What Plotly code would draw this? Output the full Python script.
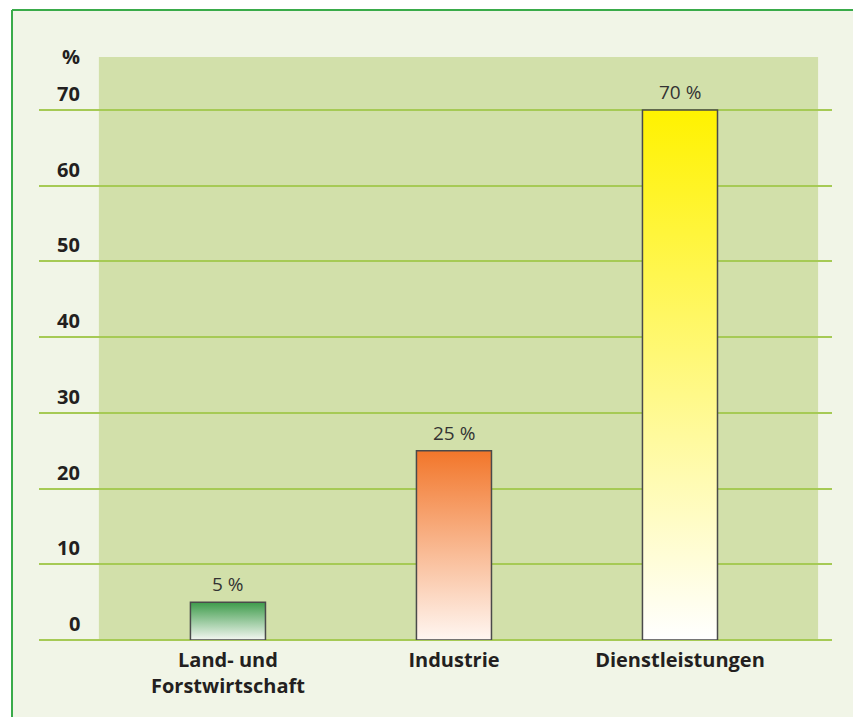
import plotly.graph_objects as go

# ---- data ----
categories = ["Land- und<br>Forstwirtschaft", "Industrie", "Dienstleistungen"]
values = [5, 25, 70]
value_labels = ["5 %", "25 %", "70 %"]
y_ticks = [0, 10, 20, 30, 40, 50, 60, 70]
unit_label = "%"

# ---- styles ----
top_colors = ["#3d9b4a", "#f2762a", "#fff200"]
bottom_colors = ["#f4f7f2", "#fff6f1", "#ffffff"]
outer_bg = "#f1f5e7"
panel_bg = "#d2e0aa"
grid_col = "#a6ca55"
border_col = "#3aab4a"
text_col = "#231f20"
FONT = "Open Sans"

W, H = 853, 717
ml, mr, mt, mb = 39, 21, 57, 77
half_w = 0.166
x_range = [-0.836, 2.6726]
y_range = [0, 77]

fig = go.Figure()

for i, (v, tc, bc) in enumerate(zip(values, top_colors, bottom_colors)):
    xs = [i - half_w, i - half_w, i + half_w, i + half_w, i - half_w]
    ys = [0, v, v, 0, 0]
    fig.add_trace(go.Scatter(
        x=xs, y=ys, mode="lines", fill="toself",
        line=dict(color="#4a4a4a", width=1.5),
        fillgradient=dict(type="vertical", colorscale=[[0, bc], [1, tc]]),
        hoverinfo="skip", showlegend=False,
    ))
    fig.add_annotation(x=i, y=v, text=value_labels[i], showarrow=False,
                       xanchor="center", yanchor="bottom", yshift=3,
                       font=dict(family=FONT, size=19, color="#333333"))

# y tick labels
plot_w = W - ml - mr
plot_h = H - mt - mb
for t in y_ticks:
    fig.add_annotation(x=(82 - ml) / plot_w, xref="paper", y=t, yref="y",
                       text=f"<b>{t}</b>", showarrow=False,
                       xanchor="right", yanchor="bottom", yshift=1,
                       font=dict(family=FONT, size=20, color=text_col))
fig.add_annotation(x=(82 - ml) / plot_w, xref="paper", y=75, yref="y",
                   text=f"<b>{unit_label}</b>", showarrow=False,
                   xanchor="right", yanchor="bottom",
                   font=dict(family=FONT, size=20, color=text_col))

# white strips outside the frame (top and left), then frame lines
fx0 = (12 - ml) / plot_w
fy1 = (H - mb - 10) / plot_h
px_l = -ml / plot_w
px_r = (W - ml) / plot_w
py_b = -mb / plot_h
py_t = (H - mb) / plot_h
fig.add_shape(type="rect", xref="paper", yref="paper",
              x0=px_l, x1=px_r, y0=fy1, y1=py_t,
              fillcolor="white", line=dict(width=0), layer="below")
fig.add_shape(type="rect", xref="paper", yref="paper",
              x0=px_l, x1=fx0, y0=py_b, y1=py_t,
              fillcolor="white", line=dict(width=0), layer="below")
fig.add_shape(type="line", xref="paper", yref="paper",
              x0=fx0, x1=px_r, y0=fy1, y1=fy1,
              line=dict(color=border_col, width=2), layer="below")
fig.add_shape(type="line", xref="paper", yref="paper",
              x0=fx0, x1=fx0, y0=py_b, y1=fy1,
              line=dict(color=border_col, width=2), layer="below")
# green panel
fig.add_shape(type="rect", xref="x", yref="y",
              x0=-0.571, x1=2.611, y0=0, y1=77,
              fillcolor=panel_bg, line=dict(width=0), layer="below")

fig.update_layout(
    width=W, height=H,
    margin=dict(l=ml, r=mr, t=mt, b=mb),
    paper_bgcolor=outer_bg,
    plot_bgcolor="rgba(0,0,0,0)",
    showlegend=False,
    xaxis=dict(range=x_range, tickmode="array", tickvals=list(range(len(categories))),
               ticktext=[f"<b>{c}</b>" for c in categories],
               tickfont=dict(family=FONT, size=20, color=text_col),
               ticklabelstandoff=6,
               showgrid=False, zeroline=False, showline=False, ticks="",
               fixedrange=True),
    yaxis=dict(range=y_range, tickvals=y_ticks, showticklabels=False,
               showgrid=True, gridcolor=grid_col, gridwidth=1.5,
               zeroline=True, zerolinecolor=grid_col, zerolinewidth=1.5,
               showline=False, ticks="", fixedrange=True),
)

fig.write_html("out.html")
